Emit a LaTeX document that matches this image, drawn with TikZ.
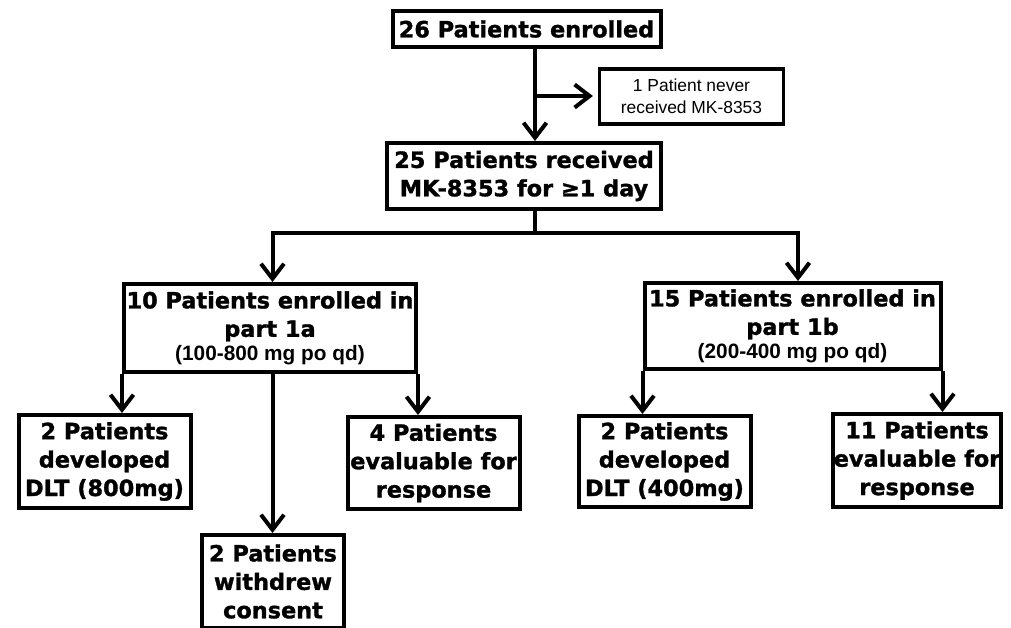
\documentclass[tikz,border=0pt]{standalone}
\usepackage{fontspec}
\setmainfont{DejaVu Sans}[BoldFeatures={FakeBold=1.3}]
\newfontfamily\plainfont{Liberation Sans}
\usetikzlibrary{arrows.meta,calc}

\tikzset{
  box/.style={draw, line width=2pt, align=center, inner sep=0pt,
    font=\bfseries\fontsize{11.2}{14.2}\selectfont},
  note/.style={draw, line width=1.6pt, align=center, inner sep=0pt,
    font=\plainfont\fontsize{8.7}{10.8}\selectfont},
  arr/.style={line width=2pt, -{Straight Barb[length=7.5pt,width=11.5pt]}},
  lnk/.style={line width=2pt}
}
\newcommand{\dose}[1]{{\plainfont\bfseries\fontsize{10.4}{12}\selectfont #1}}

\begin{document}
\begin{tikzpicture}[x=0.5pt, y=-0.5pt]
  \useasboundingbox (0,0) rectangle (1011,627);

  \node[box, minimum width=134pt, minimum height=18pt] (enrolled) at (526.5,29) {26 Patients enrolled};
  \node[note, minimum width=92pt, minimum height=27.5pt] (never) at (691.5,96.5) {1 Patient never\\received MK-8353};
  \node[box, minimum width=137pt, minimum height=33pt] (received) at (524,176) {25 Patients received\\MK-8353 for ≥1 day};

  \node[box, minimum width=146pt, minimum height=44pt] (parta) at (270,328) {10 Patients enrolled in\\part 1a\\[-2.5pt]\dose{(100-800 mg po qd)}};
  \node[box, minimum width=148pt, minimum height=43pt] (partb) at (792.5,326) {15 Patients enrolled in\\part 1b\\[-2.5pt]\dose{(200-400 mg po qd)}};

  \node[box, minimum width=86pt, minimum height=46.5pt] (dlta) at (104.5,461.5) {2 Patients\\developed\\DLT (800mg)};
  \node[box, minimum width=71pt, minimum height=46.5pt] (withdrew) at (273,581.5) {2 Patients\\withdrew\\consent};
  \node[box, minimum width=86pt, minimum height=46pt] (evala) at (433.5,463) {4 Patients\\evaluable for\\response};
  \node[box, minimum width=86pt, minimum height=45.5pt] (dltb) at (664.5,461.5) {2 Patients\\developed\\DLT (400mg)};
  \node[box, minimum width=84pt, minimum height=46.5pt] (evalb) at (917,460.5) {11 Patients\\evaluable for\\response};

  \coordinate (trunk) at (535,0);
  \coordinate (side) at (535,96);
  \coordinate (fork) at (535,233);
  \coordinate (La) at (272.5,0);
  \coordinate (Lb) at (798,0);

\draw[arr] (enrolled.south -| trunk) -- (received.north -| trunk);
\draw[arr, shorten >=2.5pt] (side) -- (side -| never.west);
\draw[lnk] (received.south -| trunk) -- (fork);
\draw[arr] (fork) -| (parta.north -| La);
\draw[arr] (fork) -| (partb.north -| Lb);
\draw[arr] (parta.south west) -- (parta.south west |- dlta.north);
\draw[arr] (parta.south -| La) -- (withdrew.north -| La);
\draw[arr] (parta.south east) -- (parta.south east |- evala.north);
\draw[arr] (partb.south west) -- (partb.south west |- dltb.north);
\draw[arr] (partb.south east) -- (partb.south east |- evalb.north);
\end{tikzpicture}
\end{document}
